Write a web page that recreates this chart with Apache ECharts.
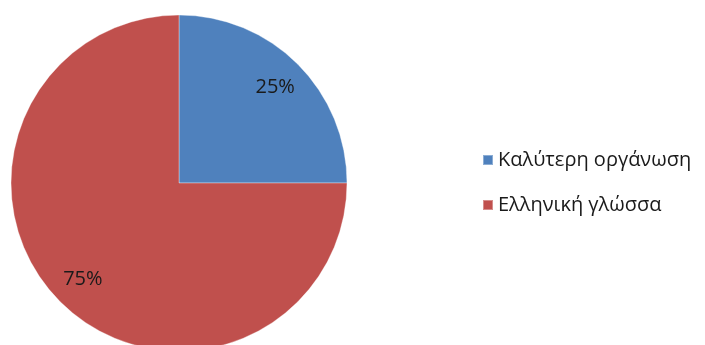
<!DOCTYPE html>
<html>
<head>
<meta charset="utf-8">
<script src="https://cdn.jsdelivr.net/npm/echarts@6/dist/echarts.min.js"></script>
<style>
  html, body { margin: 0; padding: 0; background: #fff; }
  #chart { width: 705px; height: 345px; }
</style>
</head>
<body>
<div id="chart"></div>
<script>
// Share of answers per reason
const categories = ['Καλύτερη οργάνωση', 'Ελληνική γλώσσα'];
const values = [25, 75];
const colors = ['#4F81BD', '#C0504D'];

const pieData = categories.map((name, i) => ({
  name: name,
  value: values[i],
  itemStyle: { color: colors[i] }
}));

const center = [179, 183];
const fontStack = '"Open Sans", "Noto Sans", sans-serif';

const chart = echarts.init(document.getElementById('chart'));
chart.setOption({
  animation: false,
  legend: {
    orient: 'vertical',
    left: 477,
    top: 145,
    itemWidth: 10,
    itemHeight: 10,
    itemGap: 25,
    icon: 'rect',
    data: categories,
    textStyle: { fontFamily: fontStack, fontSize: 20, lineHeight: 16, color: '#1a1a1a' }
  },
  series: [
    {
      // slices
      type: 'pie',
      center: center,
      radius: [0, 168],
      startAngle: 90,
      clockwise: true,
      silent: true,
      label: { show: false },
      labelLine: { show: false },
      itemStyle: { borderColor: 'rgba(255,255,255,0.35)', borderWidth: 1 },
      data: pieData
    },
    {
      // transparent ring carrying the percentage labels at ~0.8 of the radius
      type: 'pie',
      center: center,
      radius: [98, 168],
      startAngle: 90,
      clockwise: true,
      silent: true,
      legendHoverLink: false,
      itemStyle: { color: 'rgba(0,0,0,0)' },
      label: {
        show: true,
        position: 'inside',
        formatter: p => p.value + '%',
        fontFamily: fontStack,
        fontSize: 20,
        color: '#1a1a1a'
      },
      labelLine: { show: false },
      data: categories.map((name, i) => ({ name: name, value: values[i] }))
    }
  ]
});
</script>
</body>
</html>
